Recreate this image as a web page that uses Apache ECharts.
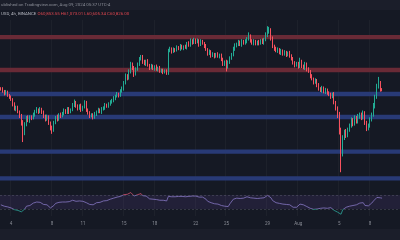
<!DOCTYPE html>
<html><head><meta charset="utf-8">
<script src="https://cdn.jsdelivr.net/npm/echarts@6/dist/echarts.min.js"></script>
<style>html,body{margin:0;padding:0;background:#151924;}#c{width:400px;height:240px;}</style>
</head><body><div id="c"></div><script>
// ---- data (price in thousands USD, 4h candles from Jul 3 2024) ----
const slotCount = 234;
const firstOpen = 61.0;
const closes = [
 60.9,60.6,60.3,60.5,60.0,59.8, 59.4,58.7,58.0,58.3,57.6,57.0, 56.0,54.5,55.8,56.7,56.3,56.9,
 56.7,57.2,57.6,57.9,57.6,58.0, 57.5,57.0,56.5,56.9,56.0,55.3, 55.0,56.0,56.8,56.5,57.2,57.0,
 57.4,57.8,57.5,58.0,57.6,57.9, 58.6,59.0,58.4,58.1,58.5,57.9, 58.3,58.9,57.9,57.4,57.0,57.2,
 56.8,57.3,57.6,57.9,57.6,58.0, 58.2,58.6,58.4,58.8,59.0,59.2, 59.6,59.9,60.2,60.0,60.6,61.0,
 61.8,62.8,62.5,63.5,64.5,64.0, 63.2,63.8,64.6,65.3,65.6,64.9, 64.6,65.0,64.4,64.0,64.3,63.9,
 64.2,63.8,64.0,63.5,63.7,63.4, 63.6,63.3,66.5,66.8,66.4,66.7, 66.6,67.0,66.8,67.2,66.9,67.1,
 67.0,67.6,67.3,68.0,67.7,68.1, 67.8,68.0,67.4,67.9,67.6,67.2, 66.7,66.1,66.4,65.8,66.0,65.7,
 66.0,65.7,65.9,65.2,64.6,64.9, 64.2,64.8,65.5,65.9,66.8,67.2, 67.5,67.8,67.4,67.9,67.6,67.9,
 68.2,68.6,68.0,67.6,67.9,67.5, 67.8,67.6,68.0,67.7,68.1,68.8, 69.2,69.5,68.3,67.2,66.8,66.5,
 66.7,66.2,66.5,66.0,66.3,65.9, 66.2,65.8,65.3,64.8,64.4,64.6, 64.2,64.9,64.3,64.0,64.6,63.8,
 63.5,62.8,62.4,61.9,62.2,61.5, 61.0,60.7,61.1,60.5,60.8,60.3, 60.1,59.8,60.2,59.0,58.1,57.2,
 54.8,51.5,53.8,54.6,54.2,55.0, 55.6,56.4,55.9,56.7,56.2,56.9, 57.2,56.8,57.4,56.0,55.2,55.6,
 56.5,57.2,58.5,59.8,61.3,61.8, 60.85,60.83
];
const upWick = [
 .2,.3,.2,.3,.2,.2, .2,.2,.3,.2,.2,.2, .3,.4,.3,.3,.4,.2, .2,.3,.3,.4,.2,.3, .2,.3,.2,.3,.2,.2,
 .3,.3,.2,.4,.2,.3, .2,.3,.2,.3,.3,.2, .3,.4,.2,.3,.2,.3, .2,.4,.3,.2,.3,.2, .2,.3,.2,.3,.2,.3,
 .2,.3,.2,.2,.3,.3, .3,.2,.3,.2,.3,.3, .3,.4,.3,.3,.4,.3, .3,.3,.2,.3,.3,.3, .3,.2,.3,.2,.3,.2,
 .2,.3,.2,.3,.2,.2, .2,.2,.3,.3,.2,.3, .2,.3,.2,.3,.2,.2, .3,.2,.3,.3,.2,.3, .2,.3,.2,.3,.2,.2,
 .3,.2,.3,.2,.3,.2, .2,.3,.2,.2,.3,.2, .3,.3,.2,.3,.3,.4, .2,.3,.2,.3,.2,.3, .3,.6,.3,.2,.3,.2,
 .2,.3,.2,.3,.3,.4, .9,.5,.3,.3,.2,.3, .3,.2,.3,.2,.3,.2, .2,.3,.2,.3,.2,.3, .3,.6,.3,.2,.3,.2,
 .3,.2,.3,.2,.3,.2, .3,.2,.3,.2,.3,.2, .3,.3,.2,.3,.2,.3, .4,.5,.4,.4,.5,.3, .3,.4,.3,.4,.3,.4,
 .3,.3,.4,.3,.3,.3, .3,.3,.4,.3,.4,.9, .3,.22
];
const downWick = [
 .2,.2,.3,.2,.2,.3, .2,.3,.2,.3,.2,.3, .4,1.3,.3,.3,.2,.3, .3,.2,.3,.2,.3,.2, .2,.3,.3,.2,.3,.4,
 .6,.3,.2,.3,.2,.3, .2,.3,.2,.2,.3,.2, .2,.3,.2,.3,.2,.3, .2,.2,.3,.2,.3,.2, .3,.2,.3,.2,.2,.3,
 .2,.3,.2,.2,.3,.2, .2,.3,.2,.3,.2,.2, .3,.2,.3,.2,.3,.3, .5,.3,.2,.3,.2,.3, .2,.3,.2,.3,.2,.2,
 .3,.2,.3,.2,.2,.3, .2,.3,.3,.2,.3,.2, .3,.2,.2,.3,.2,.3, .2,.3,.2,.2,.3,.2, .3,.2,.3,.2,.2,.3,
 .2,.3,.2,.3,.2,.3, .2,.2,.3,.2,.3,.3, .7,.3,.2,.3,.2,.3, .2,.3,.2,.3,.2,.2, .3,.2,.3,.2,.3,.2,
 .2,.3,.2,.2,.3,.2, .3,.2,.3,.3,.3,.2, .3,.2,.3,.2,.2,.3, .2,.3,.2,.3,.3,.2, .3,.2,.3,.2,.3,.3,
 .2,.3,.2,.3,.2,.3, .3,.2,.3,.2,.3,.2, .2,.3,.2,.3,.3,.5, .5,2.7,.4,.3,.4,.3, .3,.3,.4,.3,.3,.3,
 .3,.4,.3,.3,.4,.3, .3,.3,.3,.4,.3,.3, .3,.23
];
const rsi = [
 42,40,38,40,36,35, 33,30,28,30,26,24, 22,20,30,38,36,40, 44,47,49,50,47,49, 46,43,40,42,37,33,
 31,40,46,44,49,48, 50,52,50,53,51,52, 55,56,52,50,53,49, 52,55,48,45,43,45, 42,46,48,51,49,52,
 53,56,54,57,58,59, 61,62,64,62,66,68, 71,74,72,75,77,73, 67,69,71,73,74,68, 65,67,62,59,61,58,
 60,57,59,55,57,55, 55,53,66,67,65,66, 65,67,66,68,66,67, 65,68,66,69,67,69, 67,68,64,66,64,61,
 58,52,54,48,49,45, 47,44,45,40,36,38, 33,37,45,50,58,62, 61,63,60,63,61,63, 65,67,62,59,61,58,
 60,58,61,59,62,65, 69,71,62,54,51,48, 50,46,48,44,46,43, 45,42,38,35,33,35, 36,44,47,42,44,37,
 35,32,31,29,33,30, 33,32,36,33,35,32, 31,34,30,26,24,21, 18,15,28,32,35,33, 38,42,40,44,42,45,
 47,45,48,40,37,39, 43,47,53,58,63,65, 62,61
];
const redLevels = [68.5, 63.7];
const blueLevels = [60.2, 56.85, 51.8, 47.9];
const bandHalf = 0.32;
const tickIndex = [6, 30, 48, 72, 90, 114, 132, 156, 174, 198, 216];
const tickLabels = ['4', '8', '11', '15', '18', '22', '25', '29', 'Aug', '5', '8'];
const rsiLevels = [70, 30];

// ---- build ----
const cats = Array.from({length: slotCount}, (_, i) => String(i));
const candles = closes.map((c, i) => {
  const o = i === 0 ? firstOpen : closes[i - 1];
  return [o, c, Math.min(o, c) - downWick[i], Math.max(o, c) + upWick[i]];
});
const bandAreas = [];
redLevels.forEach(v => bandAreas.push([{yAxis: v - bandHalf, itemStyle: {color: '#692a36'}}, {yAxis: v + bandHalf}]));
blueLevels.forEach(v => bandAreas.push([{yAxis: v - bandHalf, itemStyle: {color: '#283a76'}}, {yAxis: v + bandHalf}]));
const isTick = i => tickIndex.indexOf(Number(i)) >= 0;
const labelOf = {};
tickIndex.forEach((t, k) => labelOf[t] = tickLabels[k]);

const chart = echarts.init(document.getElementById('c'), null, {renderer: 'canvas'});
chart.setOption({
  backgroundColor: '#151924',
  animation: false,
  graphic: [
    {type: 'rect', shape: {x: 0, y: 0, width: 400, height: 10}, style: {fill: '#1b1e2a'}, z: -10, silent: true},
    {type: 'rect', shape: {x: 0, y: 229, width: 400, height: 11}, style: {fill: '#1b1e2a'}, z: -10, silent: true},
    {type: 'text', x: 1, y: 2.5, style: {text: 'ublished on Tradingview.com, Aug 09, 2024 05:37 UTC-4', fill: '#8b8e98', fontSize: 4.4, fontFamily: 'Roboto'}},
    {type: 'text', x: 1, y: 12.1, style: {
      text: '{a|USD, 4h, BINANCE} {b|O60,853.55 H61,073.01 L60,605.34 C60,826.00}',
      fontSize: 4.4, fontFamily: 'Roboto',
      rich: {a: {fill: '#b2b5be', fontSize: 4.4, fontFamily: 'Roboto'}, b: {fill: '#e0464f', fontSize: 4.4, fontFamily: 'Roboto'}}
    }}
  ],
  grid: [
    {left: 0, right: 0, top: 20, height: 168},
    {left: 0, right: 0, top: 188, height: 28}
  ],
  xAxis: [
    {type: 'category', data: cats, gridIndex: 0, boundaryGap: true,
     axisLine: {show: false}, axisTick: {show: false}, axisLabel: {show: false},
     splitLine: {show: true, interval: (i) => isTick(i), lineStyle: {color: 'rgba(255,255,255,0.035)', width: 1}}},
    {type: 'category', data: cats, gridIndex: 1, boundaryGap: true,
     axisLine: {show: false}, axisTick: {show: false},
     axisLabel: {show: true, interval: (i) => isTick(i), formatter: v => labelOf[Number(v)] || '',
                 color: '#8a8d96', fontSize: 4.5, fontFamily: 'Roboto', margin: 5},
     splitLine: {show: true, interval: (i) => isTick(i), lineStyle: {color: 'rgba(255,255,255,0.035)', width: 1}}}
  ],
  yAxis: [
    {type: 'value', gridIndex: 0, min: 46.5, max: 71, show: false, splitLine: {show: false}},
    {type: 'value', gridIndex: 1, min: 10, max: 90, show: false, splitLine: {show: false}}
  ],
  visualMap: {
    show: false, type: 'piecewise', seriesIndex: 2,
    pieces: [{gt: 70, color: '#d05070'}, {lt: 30, color: '#2ba59a'}, {gte: 30, lte: 70, color: '#8677c4'}]
  },
  series: [
    {type: 'line', xAxisIndex: 0, yAxisIndex: 0, data: [], z: 1, silent: true,
     markArea: {silent: true, data: bandAreas}},
    {type: 'candlestick', xAxisIndex: 0, yAxisIndex: 0, data: candles, z: 3, barWidth: '75%',
     itemStyle: {color: '#22ab94', color0: '#f7525f', borderColor: '#22ab94', borderColor0: '#f7525f', borderWidth: 1}},
    {type: 'line', xAxisIndex: 1, yAxisIndex: 1, data: rsi, symbol: 'none', z: 3,
     lineStyle: {width: 0.8},
     markArea: {silent: true, itemStyle: {color: 'rgba(126,87,194,0.13)'}, data: [[{yAxis: rsiLevels[1]}, {yAxis: rsiLevels[0]}]]},
     markLine: {silent: true, symbol: 'none', label: {show: false},
       lineStyle: {color: 'rgba(120,123,134,0.55)', type: [2, 2], width: 0.6},
       data: rsiLevels.map(v => ({yAxis: v}))}}
  ]
});
</script></body></html>
